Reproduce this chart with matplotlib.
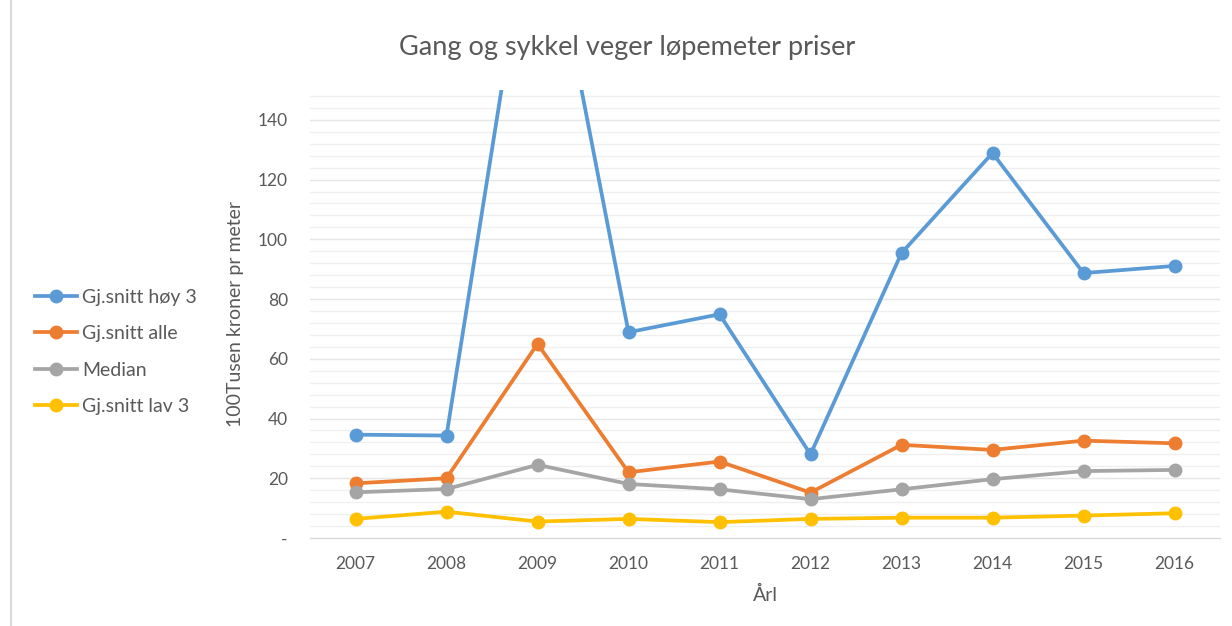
import matplotlib
matplotlib.use("Agg")
import matplotlib.pyplot as plt
from matplotlib.lines import Line2D
import numpy as np

plt.rcParams['font.family'] = ['Lato', 'DejaVu Sans']

years = ['2007', '2008', '2009', '2010', '2011', '2012', '2013', '2014', '2015', '2016']
hoy3 = [34.6, 34.3, 226.0, 68.9, 74.9, 28.0, 95.4, 128.9, 88.7, 91.1]
alle = [18.3, 20.0, 65.0, 22.0, 25.6, 15.2, 31.2, 29.5, 32.6, 31.7]
median = [15.3, 16.4, 24.5, 18.1, 16.3, 13.0, 16.3, 19.7, 22.4, 22.8]
lav3 = [6.4, 8.8, 5.5, 6.4, 5.3, 6.4, 6.8, 6.8, 7.5, 8.3]

series_names = ['Gj.snitt høy 3', 'Gj.snitt alle', 'Median', 'Gj.snitt lav 3']
colors = ['#5B9BD5', '#ED7D31', '#A5A5A5', '#FFC000']

W, H = 1232, 626
fig = plt.figure(figsize=(W / 100, H / 100), dpi=100)
fig.patch.set_facecolor('white')

ax = fig.add_axes([310 / W, 1 - 538 / H, (1220 - 310) / W, (538 - 90) / H])

x = np.arange(len(years))
for vals, name, col in zip([hoy3, alle, median, lav3], series_names, colors):
    ax.plot(x, vals, color=col, lw=2.7, marker='o', ms=9, label=name,
            solid_capstyle='round', zorder=3)

ax.set_xlim(-0.5, len(years) - 0.5)
ax.set_ylim(0, 150)
ax.set_xticks(x)
ax.set_xticklabels(years)
major = np.arange(0, 141, 20)
ax.set_yticks(major)
ax.set_yticklabels(['-'] + [str(v) for v in major[1:]])

for v in np.arange(4, 149, 4):
    ax.axhline(v, color='#efefef', lw=0.9, zorder=1)
for v in major[1:]:
    ax.axhline(v, color='#e6e6e6', lw=0.9, zorder=1)

for s in ['top', 'right', 'left']:
    ax.spines[s].set_visible(False)
ax.spines['bottom'].set_color('#d9d9d9')
ax.spines['bottom'].set_linewidth(1.0)

ax.tick_params(axis='both', length=0, labelsize=12.5, labelcolor='#595959')
ax.tick_params(axis='y', pad=16)
ax.tick_params(axis='x', pad=13)

ax.set_xlabel('Årl', fontsize=14, color='#595959', labelpad=10)
ax.set_ylabel('100Tusen kroner pr meter', fontsize=14, color='#595959', labelpad=10)

fig.text(627 / W, 1 - 47 / H, 'Gang og sykkel veger løpemeter priser',
         ha='center', va='center', fontsize=19.5, color='#595959')

handles = [Line2D([0], [0], color=c, lw=2.7, marker='o', ms=9) for c in colors]
leg = fig.legend(handles, series_names, loc='upper left',
                 bbox_to_anchor=(27 / W, 1 - 281 / H), frameon=False,
                 fontsize=14, handlelength=2.15, handletextpad=0.3,
                 labelspacing=1.0, borderaxespad=0)
for t in leg.get_texts():
    t.set_color('#595959')

fig.add_artist(Line2D([11 / W, 11 / W], [0, 1], color='#d9d9d9', lw=1.5,
                      transform=fig.transFigure))

fig.savefig('out.png', dpi=100)
